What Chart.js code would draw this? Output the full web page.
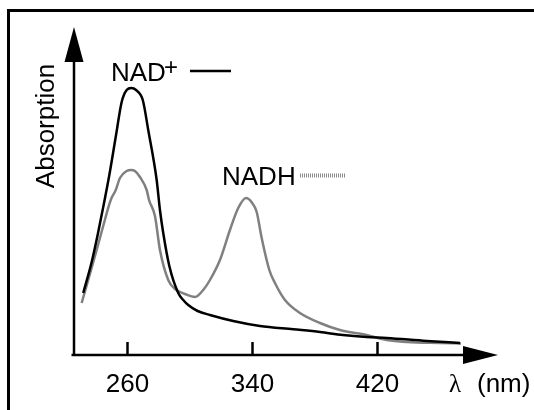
<!DOCTYPE html>
<html>
<head>
<meta charset="utf-8">
<script src="https://cdn.jsdelivr.net/npm/chart.js@4/dist/chart.umd.min.js"></script>
<style>
  html, body { margin: 0; padding: 0; background: #fff; }
  #wrap { position: relative; width: 534px; height: 410px; }
</style>
</head>
<body>
<div id="wrap"><canvas id="spectrum" width="534" height="410"></canvas></div>
<script>
// wavelength (nm) and absorption (arbitrary units)
const wavelengthTicks = [260, 340, 420];

const nadWavelength = [231.8, 237.2, 241.4, 244.6, 248.5, 252.8, 256.4, 259.6, 262.6, 265.6,
  269.9, 273.4, 278.8, 280.9, 283.0, 286.9, 292.6, 295.8, 299.0, 305.0, 312.9, 327.8, 344.9,
  366.2, 383.3, 398.0, 413.2, 426.0, 451.6, 472.9];
const nadAbs = [0.62, 0.93, 1.23, 1.48, 1.80, 2.20, 2.53, 2.65, 2.67, 2.65,
  2.55, 2.25, 1.75, 1.45, 1.22, 0.89, 0.62, 0.55, 0.50, 0.44, 0.40, 0.34, 0.29,
  0.257, 0.23, 0.20, 0.18, 0.17, 0.14, 0.12];

const nadhWavelength = [230.8, 240.4, 244.4, 249.4, 252.6, 255.3, 259.6, 262.3, 264.9, 268.1,
  272.4, 273.9, 277.7, 280.9, 286.2, 290.5, 296.9, 303.3, 308.6, 312.9, 319.3, 325.7, 331.0,
  336.0, 339.5, 342.8, 346.0, 350.9, 354.5, 360.9, 370.5, 383.3, 396.1, 413.2, 426.0, 438.8,
  460.1, 473.6];
const nadhAbs = [0.52, 1.05, 1.28, 1.55, 1.65, 1.77, 1.84, 1.85, 1.84, 1.78,
  1.65, 1.55, 1.39, 1.05, 0.75, 0.66, 0.61, 0.58, 0.65, 0.75, 0.95, 1.25, 1.47,
  1.57, 1.53, 1.43, 1.17, 0.85, 0.72, 0.55, 0.42, 0.32, 0.25, 0.20, 0.15, 0.13,
  0.12, 0.115];

const toPoints = (xs, ys) => xs.map((x, i) => ({ x, y: ys[i] }));

const FONT = "'Liberation Sans', Arial, sans-serif";

// axes with arrow heads, inward tick marks, labels and the outer frame
const axesPlugin = {
  id: 'arrowAxes',
  beforeDraw(chart) {
    const ctx = chart.ctx;
    ctx.save();
    ctx.fillStyle = '#fff';
    ctx.fillRect(0, 0, chart.width, chart.height);
    ctx.strokeStyle = '#000';
    ctx.lineWidth = 3;
    ctx.beginPath();
    ctx.moveTo(8.5, chart.height);
    ctx.lineTo(8.5, 10.5);
    ctx.lineTo(chart.width, 10.5);
    ctx.stroke();
    ctx.restore();
  },
  afterDraw(chart) {
    const ctx = chart.ctx;
    const { left, right, top, bottom } = chart.chartArea;
    const xs = chart.scales.x;
    ctx.save();
    ctx.strokeStyle = '#000';
    ctx.fillStyle = '#000';
    ctx.lineWidth = 2.5;

    // y axis + arrow
    ctx.beginPath();
    ctx.moveTo(left + 1, bottom + 1);
    ctx.lineTo(left + 1, top + 30);
    ctx.stroke();
    ctx.beginPath();
    ctx.moveTo(left + 1, top);
    ctx.lineTo(left + 10.5, top + 35);
    ctx.lineTo(left - 8.5, top + 35);
    ctx.closePath();
    ctx.fill();

    // x axis + arrow
    ctx.beginPath();
    ctx.moveTo(left - 1.5, bottom);
    ctx.lineTo(right - 30, bottom);
    ctx.stroke();
    ctx.beginPath();
    ctx.moveTo(right, bottom);
    ctx.lineTo(right - 35, bottom - 9);
    ctx.lineTo(right - 35, bottom + 9);
    ctx.closePath();
    ctx.fill();

    // tick marks and labels
    ctx.font = '26px ' + FONT;
    ctx.textAlign = 'center';
    ctx.textBaseline = 'alphabetic';
    wavelengthTicks.forEach(v => {
      const px = Math.round(xs.getPixelForValue(v)) + 0.5;
      ctx.beginPath();
      ctx.moveTo(px, bottom - 13);
      ctx.lineTo(px, bottom);
      ctx.stroke();
      ctx.fillText(String(v), px, 392);
    });

    // x axis title
    ctx.textAlign = 'left';
    ctx.font = "25px 'Liberation Serif', serif";
    ctx.fillText('\u03bb', 449, 392);
    ctx.font = '26px ' + FONT;
    ctx.fillText('(nm)', 477, 392);

    // y axis title
    ctx.save();
    ctx.translate(47, 126);
    ctx.rotate(-Math.PI / 2);
    ctx.textAlign = 'center';
    ctx.textBaseline = 'middle';
    ctx.fillText('Absorption', 0, 0);
    ctx.restore();

    // series labels
    ctx.textAlign = 'left';
    ctx.fillText('NAD', 111, 81);
    ctx.font = '24px ' + FONT;
    ctx.fillText('+', 164, 75);
    ctx.beginPath();
    ctx.moveTo(190, 71);
    ctx.lineTo(231, 71);
    ctx.stroke();

    ctx.font = '26px ' + FONT;
    ctx.fillText('NADH', 222, 185);
    ctx.strokeStyle = '#8a8a8a';
    ctx.lineWidth = 4;
    ctx.setLineDash([1, 1]);
    ctx.beginPath();
    ctx.moveTo(300, 175.5);
    ctx.lineTo(346, 175.5);
    ctx.stroke();
    ctx.restore();
  }
};

new Chart(document.getElementById('spectrum'), {
  type: 'line',
  data: {
    datasets: [{
      label: 'NAD+',
      data: toPoints(nadWavelength, nadAbs),
      borderColor: '#000',
      borderWidth: 2.5,
      pointRadius: 0,
      cubicInterpolationMode: 'monotone',
      fill: false,
    }, {
      label: 'NADH',
      data: toPoints(nadhWavelength, nadhAbs),
      borderColor: '#808080',
      borderWidth: 2.5,
      pointRadius: 0,
      cubicInterpolationMode: 'monotone',
      fill: false,
    }]
  },
  options: {
    responsive: false,
    animation: false,
    layout: { padding: { left: 73, top: 27, right: 36, bottom: 55 } },
    scales: {
      x: { type: 'linear', min: 225.25, max: 497.25, display: false },
      y: { min: 0, max: 3.28, display: false }
    },
    plugins: { legend: { display: false }, tooltip: { enabled: false } }
  },
  plugins: [axesPlugin]
});
</script>
</body>
</html>
